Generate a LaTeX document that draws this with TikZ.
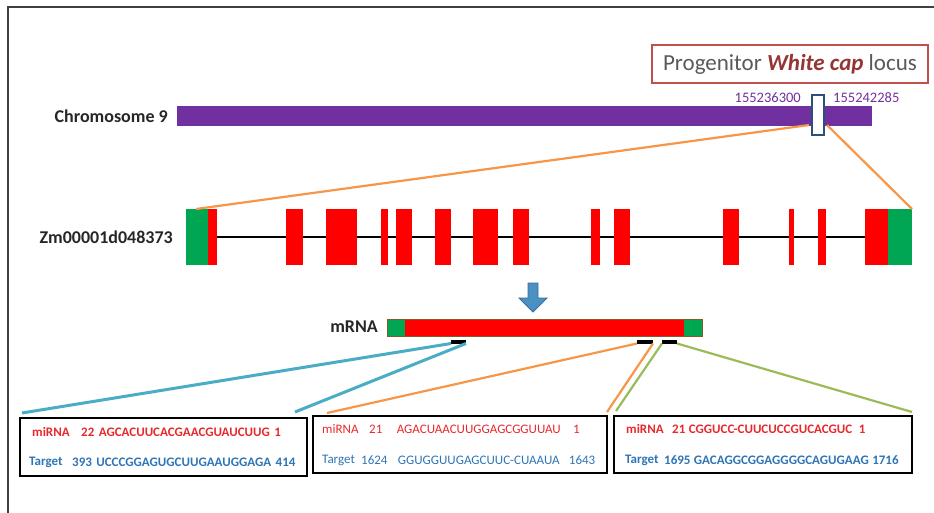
\documentclass[tikz,border=0pt]{standalone}
\usepackage{fontspec}
\setmainfont{Carlito}
\usetikzlibrary{calc,backgrounds}
\definecolor{chrom}{HTML}{7030A0}
\definecolor{exred}{HTML}{FF0000}
\definecolor{utrgreen}{HTML}{00A651}
\definecolor{orln}{HTML}{F79646}
\definecolor{tealln}{HTML}{4BACC6}
\definecolor{grnln}{HTML}{9BBB59}
\definecolor{locred}{HTML}{C0504D}
\definecolor{locdark}{HTML}{943634}
\definecolor{txtgray}{HTML}{595959}
\definecolor{seqred}{HTML}{E8282B}
\definecolor{seqblue}{HTML}{2E75B6}
\definecolor{arrfill}{HTML}{4A90C2}
\definecolor{arrdraw}{HTML}{356E9C}
\definecolor{locblue}{HTML}{2C4F7C}
\begin{document}
\begin{tikzpicture}[x=1pt,y=-1pt,
  blk/.style={inner sep=0pt, outer sep=0pt, anchor=north west, draw=none},
  exon/.style={blk, fill=exred, minimum height=56pt},
  utr/.style={blk, fill=utrgreen, minimum height=56pt},
  lbl/.style={inner sep=0pt, anchor=east, font=\bfseries\fontsize{18}{21}\selectfont, text=black!85},
  num/.style={inner sep=0pt, font=\fontsize{14.5}{17}\selectfont, text=chrom},
  seqbox/.style={draw=black, line width=2pt, inner sep=0pt, outer sep=0pt, anchor=north west},
  sq/.style={inner sep=0pt, anchor=west, font=\fontsize{13}{15}\selectfont},
  sqb/.style={sq, font=\bfseries\fontsize{13}{15}\selectfont},
  orangeln/.style={draw=orln, line width=2.2pt},
  tealline/.style={draw=tealln, line width=3pt},
  greenln/.style={draw=grnln, line width=2.2pt},
  sitemark/.style={blk, fill=black, minimum height=3.5pt}
]
\useasboundingbox (0,0) rectangle (934,513);
% frame
\coordinate (fa) at (8,513);
\coordinate (fb) at (8,7);
\coordinate (fc) at (934,7);
\draw[draw=black!75, line width=1.3pt] (fa) -- (fb) -- (fc);

% locus label
\node[draw=locred, line width=1.5pt, minimum width=276pt, minimum height=38pt, inner sep=0pt,
      font=\fontsize{23}{26}\selectfont, text=txtgray] (loclab) at (790,64)
  {Progenitor {\color{locdark}\bfseries\itshape White cap} locus};

% chromosome
\node[lbl] (chrlab) at (168,116) {Chromosome 9};
\node[blk, fill=chrom, minimum width=695pt, minimum height=20pt] (chr) at (177,106) {};
\node[blk, draw=locblue, fill=white, line width=1.6pt, minimum width=12pt, minimum height=40pt] (loc) at (812,95) {};
\node[num, anchor=east] (n1) at (801,98) {155236300};
\node[num, anchor=west] (n2) at (833,98) {155242285};

% gene
\node[lbl] (genelab) at (173,237) {Zm00001d048373};
\node[utr, minimum width=22pt] (u1) at (186,209) {};
\node[exon, minimum width=9pt] (e0) at (208,209) {};
\node[exon, minimum width=17pt] (e1) at (286,209) {};
\node[exon, minimum width=31pt] (e2) at (326,209) {};
\node[exon, minimum width=7pt] (e3) at (381,209) {};
\node[exon, minimum width=16pt] (e4) at (396,209) {};
\node[exon, minimum width=16pt] (e5) at (435,209) {};
\node[exon, minimum width=25pt] (e6) at (473,209) {};
\node[exon, minimum width=16pt] (e7) at (513,209) {};
\node[exon, minimum width=9pt] (e8) at (591,209) {};
\node[exon, minimum width=16pt] (e9) at (614,209) {};
\node[exon, minimum width=16pt] (e10) at (723,209) {};
\node[exon, minimum width=5pt] (e11) at (789,209) {};
\node[exon, minimum width=8pt] (e12) at (818,209) {};
\node[exon, minimum width=23pt] (e13) at (865,209) {};
\node[utr, minimum width=24pt] (u2) at (888,209) {};
\begin{scope}[on background layer]
  \draw[line width=2.8pt, black] (e0.east) -- (e13.west);
\end{scope}

% zoom lines chromosome -> gene
\draw[orangeln] ($(loc.west)+(-3,10)$) -- ($(u1.north west)+(10,0)$);
\draw[orangeln] ($(loc.east)+(3,10)$) -- (u2.north east);

% arrow
\draw[draw=arrdraw, fill=arrfill, line width=0.8pt]
  (528,283) -- (538,283) -- (538,298) -- (547,298) -- (533,312) -- (519,298) -- (528,298) -- cycle;

% mRNA
\node[lbl] (mlab) at (378,327) {mRNA};
\node[blk, fill=utrgreen, minimum width=18pt, minimum height=17pt] (m1) at (387,319) {};
\node[blk, fill=exred, minimum width=279pt, minimum height=17pt] (m2) at (405,319) {};
\node[blk, fill=utrgreen, minimum width=18pt, minimum height=17pt] (m3) at (684,319) {};
\draw[draw=brown!70!black, line width=0.6pt] (m1.north west) rectangle (m3.south east);
\node[sitemark, minimum width=15pt] (s1) at (451,340) {};
\node[sitemark, minimum width=16pt] (s2) at (637,340) {};
\node[sitemark, minimum width=15pt] (s3) at (662,340) {};

% boxes
\node[seqbox, minimum width=287pt, minimum height=58pt] (b1) at (20,418) {};
\node[seqbox, minimum width=294pt, minimum height=57pt] (b2) at (313,416) {};
\node[seqbox, minimum width=298pt, minimum height=57pt] (b3) at (614,416) {};

% connectors mRNA -> boxes
\draw[tealline] (s1.south west) -- ($(b1.north west)+(2,-5)$);
\draw[tealline] (s1.south east) -- ($(b1.north east)+(-12,-6)$);
\draw[orangeln] (s2.south west) -- ($(b2.north west)+(14,-3)$);
\draw[orangeln] (s2.south east) -- ($(b2.north east)+(0,-4)$);
\draw[greenln] (s3.south west) -- ($(b3.north west)+(2,-5)$);
\draw[greenln] (s3.south east) -- ($(b3.north east)+(0,-4)$);

% box 1 texts
\node[sqb, text=seqred] (t11) at (32,432) {miRNA};
\node[sqb, text=seqred] (t12) at (81,432) {22};
\node[sqb, text=seqred] (t13) at ($(t12.east)+(4,0)$) {AGCACUUCACGAACGUAUCUUG};
\node[sqb, text=seqred] (t14) at ($(t13.east)+(4,0)$) {1};
\node[sqb, text=seqblue] (t15) at (29,462) {Target};
\node[sqb, text=seqblue] (t16) at (72,462) {393};
\node[sqb, text=seqblue] (t17) at ($(t16.east)+(4,0)$) {UCCCGGAGUGCUUGAAUGGAGA};
\node[sqb, text=seqblue] (t18) at ($(t17.east)+(4,0)$) {414};

% box 2 texts
\node[sq, text=seqred] (t21) at (322,429) {miRNA};
\node[sq, text=seqred] (t22) at (369,429) {21};
\node[sq, text=seqred] (t23) at ($(t22.east)+(14,0)$) {AGACUAACUUGGAGCGGUUAU};
\node[sq, text=seqred] (t24) at ($(t23.east)+(12,0)$) {1};
\node[sq, text=seqblue] (t25) at (322,460) {Target};
\node[sq, text=seqblue] (t26) at (361,460) {1624};
\node[sq, text=seqblue] (t27) at ($(t26.east)+(10,0)$) {GGUGGUUGAGCUUC-CUAAUA};
\node[sq, text=seqblue] (t28) at ($(t27.east)+(9,0)$) {1643};

% box 3 texts
\node[sqb, text=seqred] (t31) at (626,429) {miRNA};
\node[sqb, text=seqred] (t32) at (672,429) {21};
\node[sqb, text=seqred] (t33) at ($(t32.east)+(3,0)$) {CGGUCC-CUUCUCCGUCACGUC};
\node[sqb, text=seqred] (t34) at ($(t33.east)+(6,0)$) {1};
\node[sqb, text=seqblue] (t35) at (625,460) {Target};
\node[sqb, text=seqblue] (t36) at (664,460) {1695};
\node[sqb, text=seqblue] (t37) at ($(t36.east)+(3,0)$) {GACAGGCGGAGGGGCAGUGAAG};
\node[sqb, text=seqblue] (t38) at ($(t37.east)+(3,0)$) {1716};
\end{tikzpicture}
\end{document}
